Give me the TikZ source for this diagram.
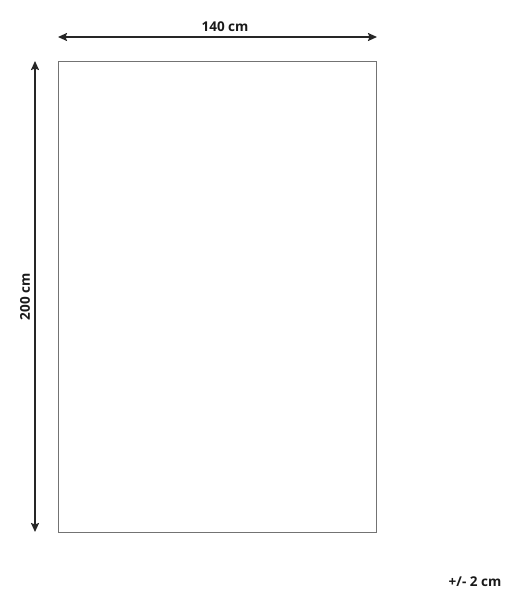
\documentclass[tikz,border=0pt]{standalone}
\usepackage{fontspec}
\setmainfont{Open Sans}
\usetikzlibrary{positioning,arrows.meta}
\tikzset{
>={Stealth[length=9pt,width=8pt,inset=1.5pt]},
  rugbox/.style={
    rectangle,
    draw=black!55, line width=0.9pt,
    minimum width=318pt,
    minimum height=471pt,
    inner sep=0pt},
  dimline/.style={draw=black!85, line width=1.8pt, <->},
  dimlabel/.style={
    font=\bfseries\fontsize{13.5}{16}\selectfont,
    text=black!90,
    inner sep=0pt},
}
\begin{document}
\begin{tikzpicture}
  [x=1pt, y=-1pt]
  \useasboundingbox (0,0) rectangle (516,600);
  % the rug itself
  \node (rug) [rugbox] at (217,296.5) {};
  % ends of the dimension arrows
  \coordinate (wleft) at (58,37);
  \coordinate (wright) at (377,37);
  \coordinate (htop) at (35,61);
  \coordinate (hbottom) at (35,532);
  \draw[dimline] (wleft) -- (wright);
  \draw[dimline] (htop) -- (hbottom);
  % labels
  \node (width) [dimlabel] at (225,27) {140 cm};
  \node (height) [dimlabel, rotate=90] at (25,297) {200 cm};
  \node (tolerance) [dimlabel] at (475,582) {+/- 2 cm};
\end{tikzpicture}
\end{document}
